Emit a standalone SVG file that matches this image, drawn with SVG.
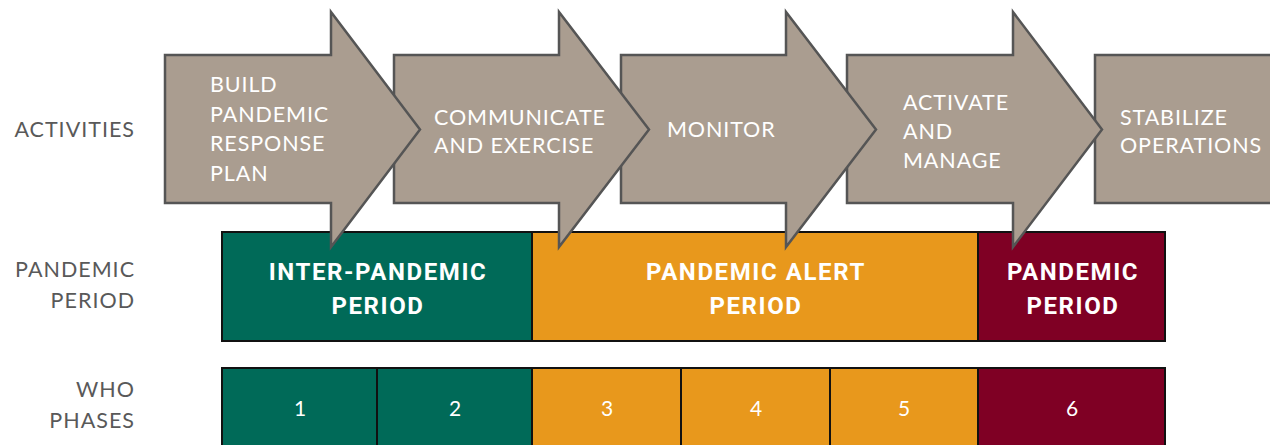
<svg xmlns="http://www.w3.org/2000/svg" width="1270" height="445" viewBox="0 0 1270 445">
<style>
.side{font-family:Lato,"Liberation Sans",sans-serif;font-size:21.5px;letter-spacing:1px;fill:#595959;text-anchor:end}
.act{font-family:Lato,"Liberation Sans",sans-serif;font-size:21.5px;letter-spacing:0.9px;fill:#ffffff}
.arr{fill:#aa9d90;stroke:#555555;stroke-width:2.5;stroke-linejoin:miter}
.per{font-family:Roboto,"Liberation Sans",sans-serif;font-weight:bold;font-size:24px;fill:#ffffff;text-anchor:middle;letter-spacing:1.6px}
.ph{font-family:Lato,"Liberation Sans",sans-serif;font-size:21px;fill:#ffffff;text-anchor:middle}
.cell{stroke:#111111;stroke-width:2}
.g{fill:#006a58}.o{fill:#e8981c}.m{fill:#7f0024}
</style>
<g id="labels">
<text class="side" x="135" y="137">ACTIVITIES</text>
<text class="side" x="135" y="277">PANDEMIC</text>
<text class="side" x="135" y="308">PERIOD</text>
<text class="side" x="135" y="397">WHO</text>
<text class="side" x="135" y="428">PHASES</text>
</g>
<g id="periods">
<g id="inter-pandemic"><rect class="cell g" x="222" y="232" width="310" height="109"/><text class="per" x="378" y="280">INTER-PANDEMIC</text><text class="per" x="378" y="314">PERIOD</text></g>
<g id="pandemic-alert"><rect class="cell o" x="532" y="232" width="446" height="109"/><text class="per" x="756" y="280">PANDEMIC ALERT</text><text class="per" x="756" y="314">PERIOD</text></g>
<g id="pandemic"><rect class="cell m" x="978" y="232" width="187" height="109"/><text class="per" x="1073" y="280">PANDEMIC</text><text class="per" x="1073" y="314">PERIOD</text></g>
</g>
<g id="phases">
<g id="phase1"><rect class="cell g" x="222" y="368" width="155" height="90"/><text class="ph" x="300" y="416">1</text></g>
<g id="phase2"><rect class="cell g" x="377" y="368" width="155" height="90"/><text class="ph" x="455" y="416">2</text></g>
<g id="phase3"><rect class="cell o" x="532" y="368" width="149" height="90"/><text class="ph" x="607" y="416">3</text></g>
<g id="phase4"><rect class="cell o" x="681" y="368" width="149" height="90"/><text class="ph" x="756" y="416">4</text></g>
<g id="phase5"><rect class="cell o" x="830" y="368" width="148" height="90"/><text class="ph" x="904" y="416">5</text></g>
<g id="phase6"><rect class="cell m" x="978" y="368" width="187" height="90"/><text class="ph" x="1072" y="416">6</text></g>
</g>
<g id="activities">
<g id="stabilize"><rect class="arr" x="1095" y="55" width="200" height="148"/><text class="act" x="1120" y="125">STABILIZE</text><text class="act" x="1120" y="153">OPERATIONS</text></g>
<g id="activate"><path class="arr" d="M847 55H1013V12L1102 129.5L1013 247V203H847Z"/><text class="act" x="903" y="110">ACTIVATE</text><text class="act" x="903" y="139">AND</text><text class="act" x="903" y="168">MANAGE</text></g>
<g id="monitor"><path class="arr" d="M621 55H786V12L876 129.5L786 247V203H621Z"/><text class="act" x="667" y="137">MONITOR</text></g>
<g id="communicate"><path class="arr" d="M394 55H559V12L649 129.5L559 247V203H394Z"/><text class="act" x="434" y="125">COMMUNICATE</text><text class="act" x="434" y="153">AND EXERCISE</text></g>
<g id="build"><path class="arr" d="M165 55H331V12L420 129.5L331 247V203H165Z"/><text class="act" x="210" y="92">BUILD</text><text class="act" x="210" y="122">PANDEMIC</text><text class="act" x="210" y="151">RESPONSE</text><text class="act" x="210" y="181">PLAN</text></g>
</g>
</svg>
